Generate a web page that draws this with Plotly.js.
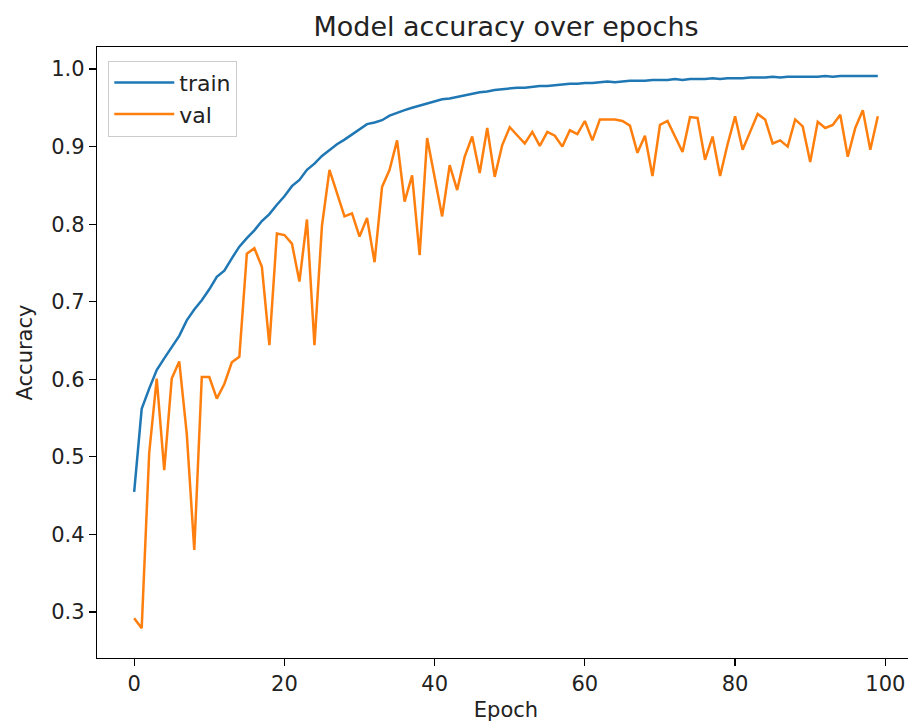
<!DOCTYPE html>
<html>
<head>
<meta charset="utf-8">
<script src="https://cdn.plot.ly/plotly-3.0.1.min.js"></script>
<style>
html, body { margin: 0; padding: 0; overflow: hidden; background: #fff; }
#chart { width: 930px; height: 727px; }
</style>
</head>
<body>
<div id="chart"></div>
<script>
const epochs = Array.from({length: 100}, (_, i) => i);

const trainAcc = [
  0.455, 0.562, 0.588, 0.612, 0.627, 0.641, 0.656, 0.676, 0.690, 0.702,
  0.716, 0.732, 0.740, 0.756, 0.771, 0.782, 0.792, 0.804, 0.813, 0.825,
  0.836, 0.849, 0.857, 0.870, 0.878, 0.888, 0.896, 0.903, 0.909, 0.916,
  0.922, 0.929, 0.931, 0.934, 0.940, 0.944, 0.947, 0.950, 0.953, 0.956,
  0.959, 0.961, 0.962, 0.964, 0.966, 0.968, 0.970, 0.971, 0.973, 0.974,
  0.975, 0.976, 0.976, 0.977, 0.978, 0.978, 0.979, 0.980, 0.981, 0.981,
  0.982, 0.982, 0.983, 0.984, 0.983, 0.984, 0.985, 0.985, 0.985, 0.986,
  0.986, 0.986, 0.987, 0.986, 0.987, 0.987, 0.987, 0.988, 0.987, 0.988,
  0.988, 0.988, 0.989, 0.989, 0.989, 0.990, 0.989, 0.990, 0.990, 0.990,
  0.990, 0.990, 0.991, 0.990, 0.991, 0.991, 0.991, 0.991, 0.991, 0.991
];

const valAcc = [
  0.292, 0.279, 0.505, 0.601, 0.483, 0.601, 0.623, 0.530, 0.380, 0.603,
  0.603, 0.575, 0.594, 0.622, 0.629, 0.762, 0.769, 0.745, 0.644, 0.788,
  0.786, 0.775, 0.726, 0.806, 0.644, 0.798, 0.870, 0.840, 0.810, 0.814,
  0.784, 0.808, 0.751, 0.848, 0.870, 0.908, 0.829, 0.863, 0.760, 0.911,
  0.861, 0.810, 0.876, 0.844, 0.887, 0.913, 0.866, 0.924, 0.861, 0.902,
  0.925, 0.915, 0.904, 0.919, 0.901, 0.919, 0.914, 0.900, 0.921, 0.916,
  0.933, 0.908, 0.935, 0.935, 0.935, 0.933, 0.927, 0.892, 0.914, 0.862,
  0.928, 0.933, 0.914, 0.893, 0.938, 0.937, 0.883, 0.913, 0.862, 0.903,
  0.939, 0.896, 0.919, 0.942, 0.935, 0.904, 0.908, 0.900, 0.935, 0.926,
  0.880, 0.932, 0.924, 0.928, 0.941, 0.887, 0.924, 0.947, 0.896, 0.939
];

const yTicks = [0.3, 0.4, 0.5, 0.6, 0.7, 0.8, 0.9, 1.0];
const xTicks = [0, 20, 40, 60, 80, 100];

const FONT = "DejaVu Sans";
const TXT = "#222222";

const traces = [
  {x: epochs, y: trainAcc, name: "train", type: "scatter", mode: "lines",
   line: {color: "#1f77b4", width: 2.5}},
  {x: epochs, y: valAcc, name: "val", type: "scatter", mode: "lines",
   line: {color: "#ff7f0e", width: 2.5}}
];

const layout = {
  width: 930, height: 727,
  margin: {l: 97, r: 14.5, t: 47, b: 69},
  paper_bgcolor: "#ffffff", plot_bgcolor: "#ffffff",
  font: {family: FONT, color: TXT, size: 21},
  title: {text: "Model accuracy over epochs", font: {family: FONT, size: 27, color: TXT},
          x: 0.5, xref: "paper", y: 1 - 27/727, yref: "container", yanchor: "middle"},
  xaxis: {
    range: [-4.95, 103.95], tickvals: xTicks, ticktext: xTicks.map(String),
    showgrid: false, zeroline: false, showline: true, mirror: true,
    linecolor: "#000", linewidth: 1.2, ticks: "outside", ticklen: 7, tickwidth: 1.2, tickcolor: "#000",
    tickfont: {family: FONT, size: 21, color: TXT},
    title: {text: "Epoch", font: {family: FONT, size: 21, color: TXT}, standoff: 6},
    automargin: false
  },
  yaxis: {
    range: [0.2407, 1.0284], tickvals: yTicks, ticktext: yTicks.map(v => v.toFixed(1)),
    showgrid: false, zeroline: false, showline: true, mirror: true,
    linecolor: "#000", linewidth: 1.2, ticks: "outside", ticklen: 7, tickwidth: 1.2, tickcolor: "#000",
    tickfont: {family: FONT, size: 21, color: TXT},
    title: {text: "Accuracy", font: {family: FONT, size: 21, color: TXT}, standoff: 12},
    automargin: false
  },
  showlegend: true,
  legend: {
    x: 0.0138, y: 0.9776, xanchor: "left", yanchor: "top",
    bgcolor: "rgba(255,255,255,0.85)", bordercolor: "#cccccc", borderwidth: 1,
    itemwidth: 60, tracegroupgap: 0,
    font: {family: FONT, size: 22, color: TXT}
  }
};

Plotly.newPlot("chart", traces, layout, {displayModeBar: false, staticPlot: true});
</script>
</body>
</html>
